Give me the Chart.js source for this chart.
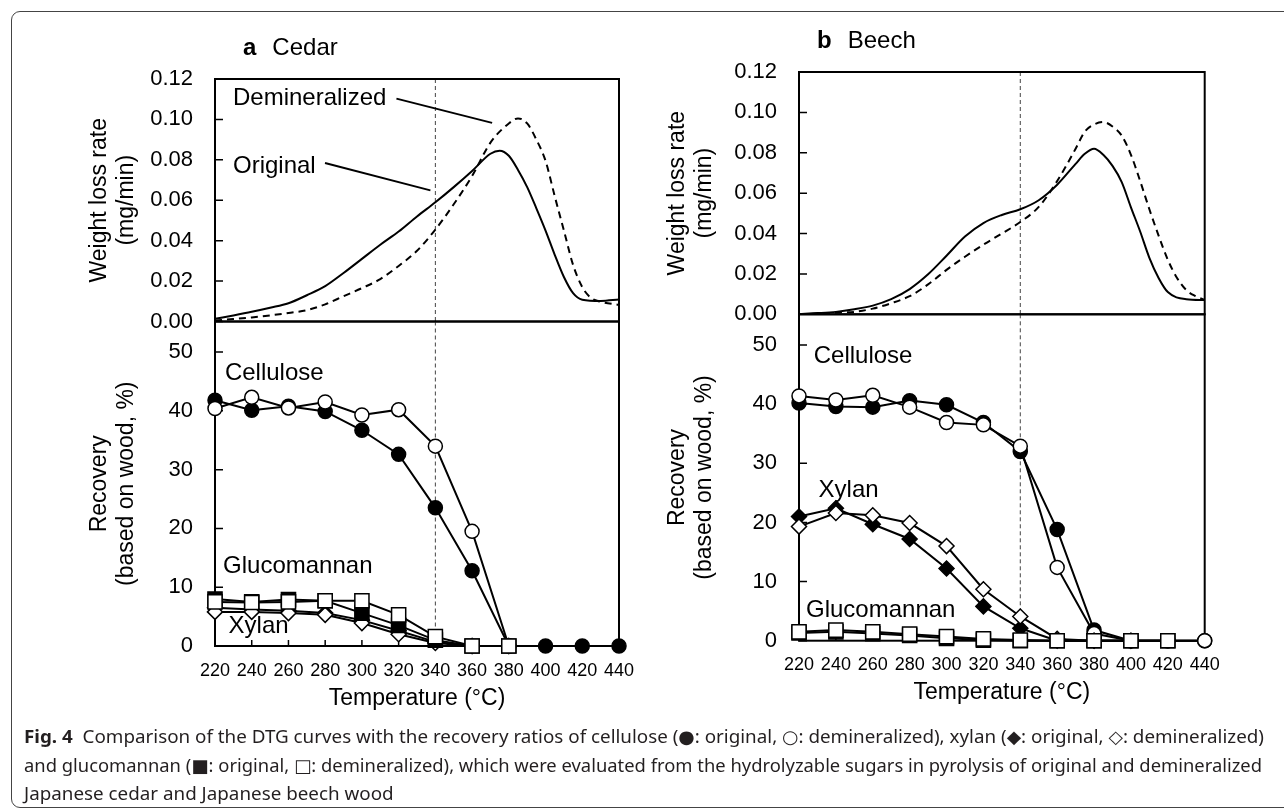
<!DOCTYPE html>
<html>
<head>
<meta charset="utf-8">
<script src="https://cdn.jsdelivr.net/npm/chart.js@4.4.0/dist/chart.umd.min.js"></script>
<style>
  body { margin: 0; background: #fff; width: 1284px; height: 810px; overflow: hidden; position: relative;
         font-family: "Liberation Sans", Arial, sans-serif; }
  canvas { position: absolute; left: 0; top: 0; }
  .box { position: absolute; left: 11px; top: 11px; width: 1300px; height: 795px;
         border: 1px solid #444; border-radius: 9px; }
  .panel { position: absolute; font-size: 24px; line-height: 28px; color: #000; white-space: nowrap; }
  .panel b { margin-right: 16px; }
  .cap { position: absolute; left: 24px; font-family: "Noto Sans", "DejaVu Sans", sans-serif; font-size: 18px;
         line-height: 28px; color: #231f20; white-space: nowrap; transform-origin: 0 50%; }
  .cap b { font-weight: 700; }
</style>
</head>
<body>
<div class="box"></div>
<canvas id="cedarTop" width="1284" height="810"></canvas>
<canvas id="cedarBot" width="1284" height="810"></canvas>
<canvas id="beechTop" width="1284" height="810"></canvas>
<canvas id="beechBot" width="1284" height="810"></canvas>
<div class="panel" style="left:243px;top:33px"><b>a</b>Cedar</div>
<div class="panel" style="left:817px;top:26px"><b>b</b>Beech</div>
<div class="cap" id="cap1" style="top:722px"><b>Fig. 4</b>&nbsp; Comparison of the DTG curves with the recovery ratios of cellulose (●: original, ○: demineralized), xylan (◆: original, ◇: demineralized)</div>
<div class="cap" id="cap2" style="top:751px">and glucomannan (■: original, □: demineralized), which were evaluated from the hydrolyzable sugars in pyrolysis of original and demineralized</div>
<div class="cap" id="cap3" style="top:779px">Japanese cedar and Japanese beech wood</div>
<script>
// temperatures of the recovery experiments (°C)
const temps = [220, 240, 260, 280, 300, 320, 340, 360, 380, 400, 420, 440];

// Cedar recovery (based on wood, %)
const cedarCellOrig = [41.8, 40.1, 40.8, 39.9, 36.7, 32.6, 23.5, 12.8, 0, 0, 0, 0];
const cedarCellDem  = [40.4, 42.3, 40.5, 41.5, 39.3, 40.2, 34.0, 19.5, 0, null, null, null];
const cedarXylOrig  = [6.5, 6.2, 6.0, 5.6, 4.4, 2.6, 0.7, 0, 0, null, null, null];
const cedarXylDem   = [5.8, 5.8, 5.6, 5.3, 3.9, 2.0, 0.5, 0, 0, null, null, null];
const cedarGluOrig  = [8.0, 7.5, 7.9, 7.7, 5.6, 3.5, 1.0, 0, 0, null, null, null];
const cedarGluDem   = [7.5, 7.4, 7.5, 7.7, 7.7, 5.3, 1.6, 0, 0, null, null, null];

// Beech recovery (based on wood, %)
const beechCellOrig = [40.2, 39.6, 39.5, 40.6, 39.9, 36.9, 32.0, 18.8, 1.8, 0, 0, 0];
const beechCellDem  = [41.4, 40.7, 41.5, 39.5, 36.9, 36.5, 32.9, 12.4, 1.2, 0, 0, 0];
const beechXylOrig  = [21.0, 22.4, 19.7, 17.2, 12.2, 5.8, 2.1, 0, 0, 0, null, null];
const beechXylDem   = [19.3, 21.6, 21.2, 19.9, 16.0, 8.7, 4.1, 0.3, 0, 0, null, null];
const beechGluOrig  = [1.3, 1.5, 1.2, 0.9, 0.4, 0.1, 0, 0, 0, 0, 0, null];
const beechGluDem   = [1.5, 1.8, 1.5, 1.1, 0.7, 0.3, 0.1, 0, 0, 0, 0, null];

// DTG curves, weight loss rate (mg/min)
const cedarOrigT = [220,230,240,250,260,270,280,290,300,310,320,330,340,350,360,370,375,380,385,390,395,400,405,410,415,420,430,440];
const cedarOrigR = [0.0013,0.003,0.0048,0.0068,0.009,0.013,0.0175,0.024,0.031,0.038,0.0445,0.052,0.059,0.0665,0.0745,0.083,0.0845,0.082,0.075,0.0665,0.056,0.045,0.033,0.022,0.014,0.0108,0.0102,0.0109];
const cedarDemT = [220,230,240,250,260,270,280,290,300,310,320,330,340,350,360,370,380,385,390,395,400,405,410,415,420,425,430,440];
const cedarDemR = [0.0005,0.0012,0.002,0.003,0.0042,0.0056,0.0085,0.0125,0.0165,0.021,0.0275,0.035,0.0455,0.058,0.072,0.0885,0.098,0.1005,0.098,0.09,0.0795,0.062,0.045,0.028,0.017,0.0115,0.0098,0.0082];
const beechOrigT = [220,230,240,250,260,270,280,290,300,310,320,330,340,350,360,370,375,380,385,390,395,400,405,410,415,420,430,440];
const beechOrigR = [0.0002,0.0006,0.0012,0.0025,0.0043,0.0075,0.0125,0.0198,0.029,0.0385,0.0452,0.0492,0.052,0.0565,0.0642,0.0745,0.0795,0.082,0.079,0.0735,0.0655,0.053,0.041,0.028,0.018,0.011,0.0075,0.0071];
const beechDemT = [220,230,240,250,260,270,280,290,300,310,320,330,340,350,360,370,375,380,385,390,395,400,405,410,415,420,425,430,435,440];
const beechDemR = [0,0.0003,0.0008,0.0012,0.0028,0.0055,0.009,0.0148,0.022,0.0285,0.0345,0.04,0.0457,0.0532,0.066,0.082,0.0905,0.094,0.0952,0.093,0.0885,0.079,0.066,0.052,0.039,0.027,0.018,0.012,0.009,0.0071];

const FONT = '"Liberation Sans", Arial, sans-serif';
Chart.defaults.font.family = FONT;
Chart.defaults.color = '#000';

// frame, inward ticks, dashed line at 340 °C and text labels
const decor = {
  id: 'decor',
  beforeDatasetsDraw(chart, args, opts) {
    const { ctx, chartArea: a, scales: { x, y } } = chart;
    ctx.save();
    ctx.strokeStyle = '#444';
    ctx.lineWidth = 1;
    ctx.setLineDash([4, 3]);
    const vx = x.getPixelForValue(opts.vline);
    ctx.beginPath(); ctx.moveTo(vx, a.top); ctx.lineTo(vx, a.bottom); ctx.stroke();
    ctx.setLineDash([]);
    ctx.strokeStyle = '#000';
    ctx.lineWidth = 2;
    ctx.strokeRect(a.left, a.top, a.right - a.left, a.bottom - a.top);
    ctx.lineWidth = 1.5;
    ctx.beginPath();
    y.ticks.forEach(t => {
      const py = y.getPixelForValue(t.value);
      ctx.moveTo(a.left, py); ctx.lineTo(a.left + 8, py);
    });
    if (opts.xTicks) {
      x.ticks.forEach((t, i) => {
        const px = x.getPixelForTick(i);
        ctx.moveTo(px, a.bottom); ctx.lineTo(px, a.bottom - 6);
      });
    }
    ctx.stroke();
    ctx.restore();
  },
  afterDatasetsDraw(chart, args, opts) {
    const { ctx, scales: { x, y } } = chart;
    ctx.save();
    ctx.fillStyle = '#000';
    ctx.font = '24px ' + FONT;
    ctx.textAlign = 'left';
    ctx.textBaseline = 'middle';
    (opts.notes || []).forEach(n => ctx.fillText(n.text, x.getPixelForValue(n.x), y.getPixelForValue(n.y)));
    ctx.strokeStyle = '#000';
    ctx.lineWidth = 2;
    (opts.leaders || []).forEach(l => {
      ctx.beginPath();
      ctx.moveTo(x.getPixelForValue(l.x1), y.getPixelForValue(l.y1));
      ctx.lineTo(x.getPixelForValue(l.x2), y.getPixelForValue(l.y2));
      ctx.stroke();
    });
    ctx.restore();
  }
};

function yTitle(lines) {
  return { display: true, text: lines, font: { size: 23, lineHeight: 1.17 }, padding: 0, color: '#000' };
}

const noGrid = { display: false, drawTicks: false };

function dtgChart(id, origT, origR, demT, demR, box, plug) {
  return new Chart(document.getElementById(id), {
    type: 'line',
    data: {
      datasets: [
        { data: origT.map((t, i) => ({ x: t, y: origR[i] })), borderColor: '#000', borderWidth: 2,
          pointRadius: 0, cubicInterpolationMode: 'monotone', fill: false },
        { data: demT.map((t, i) => ({ x: t, y: demR[i] })), borderColor: '#000', borderWidth: 2,
          borderDash: [7, 5], pointRadius: 0, cubicInterpolationMode: 'monotone', fill: false }
      ]
    },
    options: {
      responsive: false, animation: false, events: [],
      layout: { padding: { left: box.l, right: box.r, top: box.t, bottom: box.b } },
      plugins: { legend: { display: false }, tooltip: { enabled: false }, decor: plug },
      scales: {
        x: { type: 'linear', min: 220, max: 440, display: false },
        y: {
          min: 0, max: 0.12,
          ticks: { stepSize: 0.02, padding: 22, font: { size: 22 }, color: '#000', callback: v => v.toFixed(2) },
          grid: noGrid, border: { display: false },
          title: yTitle(['Weight loss rate', '(mg/min)']),
          afterFit: s => { s.width = box.w; }
        }
      }
    },
    plugins: [decor]
  });
}

function recSet(data, style, filled, radius) {
  return {
    data, borderColor: '#000', borderWidth: 2, fill: false, tension: 0, clip: false,
    pointStyle: style, pointRadius: radius, pointBorderWidth: 1.5, pointBorderColor: '#000',
    pointBackgroundColor: filled ? '#000' : '#fff', backgroundColor: filled ? '#000' : '#fff'
  };
}

function recChart(id, s, box, plug) {
  return new Chart(document.getElementById(id), {
    type: 'line',
    data: {
      labels: temps,
      datasets: [
        recSet(s.gluDem, 'rect', false, 10),
        recSet(s.gluOrig, 'rect', true, 10),
        recSet(s.xylDem, 'rectRot', false, 7.5),
        recSet(s.xylOrig, 'rectRot', true, 7.5),
        recSet(s.cellDem, 'circle', false, 7),
        recSet(s.cellOrig, 'circle', true, 7)
      ]
    },
    options: {
      responsive: false, animation: false, events: [],
      layout: { padding: { left: box.l, right: box.r, top: box.t, bottom: box.b } },
      plugins: { legend: { display: false }, tooltip: { enabled: false }, decor: plug },
      scales: {
        x: {
          type: 'category', offset: false,
          grid: noGrid, border: { display: false },
          ticks: { padding: 14, font: { size: 18 }, color: '#000', maxRotation: 0, autoSkip: false },
          title: { display: true, text: 'Temperature (°C)', font: { size: 23, lineHeight: 1.17 }, padding: 0, color: '#000' },
          afterFit: sc => { sc.height = box.h; }
        },
        y: {
          min: 0, max: 55.2,
          ticks: { stepSize: 10, padding: 22, font: { size: 22 }, color: '#000' },
          afterBuildTicks: sc => { sc.ticks = sc.ticks.filter(t => t.value <= 50); },
          grid: noGrid, border: { display: false },
          title: yTitle(['Recovery', '(based on wood, %)']),
          afterFit: sc => { sc.width = box.w; }
        }
      }
    },
    plugins: [decor]
  });
}

dtgChart('cedarTop', cedarOrigT, cedarOrigR, cedarDemT, cedarDemR,
  { l: 86, w: 129, r: 665, t: 79, b: 488.5 },
  { vline: 340,
    notes: [ { text: 'Demineralized', x: 229.8, y: 0.1103 }, { text: 'Original', x: 229.8, y: 0.0768 } ],
    leaders: [ { x1: 318.8, y1: 0.1103, x2: 370.9, y2: 0.0983 }, { x1: 279.9, y1: 0.0784, x2: 337.3, y2: 0.0649 } ] });

recChart('cedarBot',
  { cellOrig: cedarCellOrig, cellDem: cedarCellDem, xylOrig: cedarXylOrig, xylDem: cedarXylDem, gluOrig: cedarGluOrig, gluDem: cedarGluDem },
  { l: 86, w: 129, r: 665, t: 321.5, b: 97.5, h: 66.5 },
  { vline: 6, xTicks: true,
    notes: [ { text: 'Cellulose', x: 0.27, y: 46.3 }, { text: 'Glucomannan', x: 0.22, y: 13.5 }, { text: 'Xylan', x: 0.37, y: 3.3 } ] });

dtgChart('beechTop', beechOrigT, beechOrigR, beechDemT, beechDemR,
  { l: 664.5, w: 134.5, r: 79.3, t: 72, b: 495.7 },
  { vline: 340 });

recChart('beechBot',
  { cellOrig: beechCellOrig, cellDem: beechCellDem, xylOrig: beechXylOrig, xylDem: beechXylDem, gluOrig: beechGluOrig, gluDem: beechGluDem },
  { l: 664.5, w: 134.5, r: 79.3, t: 314.3, b: 103.5, h: 65.8 },
  { vline: 6, xTicks: true,
    notes: [ { text: 'Cellulose', x: 0.40, y: 48.0 }, { text: 'Xylan', x: 0.53, y: 25.5 }, { text: 'Glucomannan', x: 0.19, y: 5.2 } ] });

// fit caption lines to the printed widths
function fitLine(id, target) {
  const el = document.getElementById(id);
  const s = target / el.getBoundingClientRect().width;
  el.style.transform = 'scaleX(' + s + ')';
  return s;
}
const capScale = fitLine('cap1', 1240);
fitLine('cap2', 1238);
document.getElementById('cap3').style.transform = 'scaleX(' + capScale + ')';
</script>
</body>
</html>
